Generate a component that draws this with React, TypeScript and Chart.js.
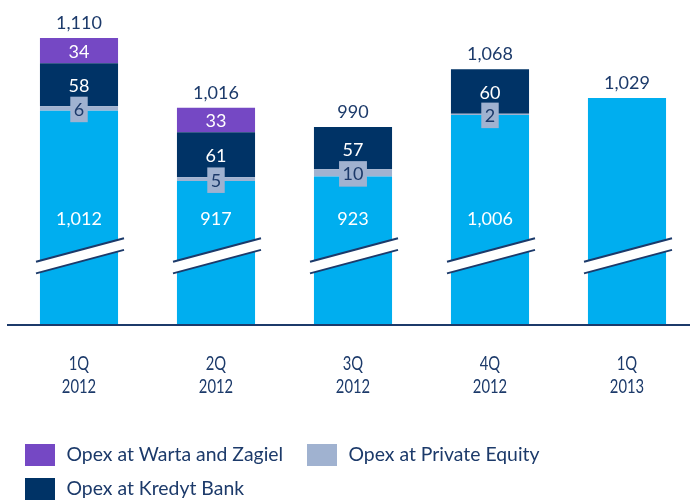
import React, { useEffect, useRef } from "react";
import { Chart, registerables } from "chart.js";

Chart.register(...registerables);

// ---- data ----
const categories: string[][] = [
  ["1Q", "2012"],
  ["2Q", "2012"],
  ["3Q", "2012"],
  ["4Q", "2012"],
  ["1Q", "2013"],
];
const opexBase = [1012, 917, 923, 1006, 1029];
const opexPrivateEquity = [6, 5, 10, 2, 0];
const opexKredytBank = [58, 61, 57, 60, 0];
const opexWartaZagiel = [34, 33, 0, 0, 0];
const totals = [1110, 1016, 990, 1068, 1029];
const legendLabels = ["Opex at Warta and Zagiel", "Opex at Private Equity", "Opex at Kredyt Bank"];

// ---- scale (broken axis) ----
const Y_MIN = 724;
const Y_MAX = 1161.4;
const BREAK_VALUE = 816;
const BASE_LABEL_VALUE = 867;

// ---- styles ----
const C_BASE = "#00AEEF";
const C_PE = "#A0B2D0";
const C_KB = "#003366";
const C_WZ = "#7548C4";
const C_TEXT = "#1C3A6A";
const FONT = "Lato, 'Open Sans', sans-serif";

const fmt = (v: number) => v.toLocaleString("en-US");

function drawText(
  ctx: CanvasRenderingContext2D,
  text: string,
  x: number,
  y: number,
  size: number,
  color: string,
  align: CanvasTextAlign = "center",
  sx = 1
) {
  ctx.save();
  ctx.font = `${size}px ${FONT}`;
  ctx.fillStyle = color;
  ctx.textAlign = align;
  ctx.textBaseline = "alphabetic";
  ctx.translate(x, y);
  ctx.scale(sx, 1);
  ctx.fillText(text, 0, 0);
  ctx.restore();
}

const decorPlugin = {
  id: "decor",
  afterDatasetsDraw(chart: any) {
    const ctx: CanvasRenderingContext2D = chart.ctx;
    const y = chart.scales.y;
    const metaBase = chart.getDatasetMeta(0);
    const metaPE = chart.getDatasetMeta(1);
    const metaKB = chart.getDatasetMeta(2);
    const metaWZ = chart.getDatasetMeta(3);

    // axis break marks
    metaBase.data.forEach((bar: any) => {
      const cx = bar.x + 1;
      const yc = y.getPixelForValue(BREAK_VALUE);
      const xl = cx - 44;
      const xr = cx + 44;
      const half = 11.75;
      const off = 5.8;
      ctx.save();
      ctx.fillStyle = "#ffffff";
      ctx.beginPath();
      ctx.moveTo(xl, yc - off + half);
      ctx.lineTo(xr, yc - off - half);
      ctx.lineTo(xr, yc + off - half);
      ctx.lineTo(xl, yc + off + half);
      ctx.closePath();
      ctx.fill();
      ctx.strokeStyle = C_TEXT;
      ctx.lineWidth = 2;
      ctx.beginPath();
      ctx.moveTo(xl, yc - off + half);
      ctx.lineTo(xr, yc - off - half);
      ctx.moveTo(xl, yc + off + half);
      ctx.lineTo(xr, yc + off - half);
      ctx.stroke();
      ctx.restore();
    });

    // x axis line
    ctx.save();
    ctx.strokeStyle = C_TEXT;
    ctx.lineWidth = 2;
    ctx.beginPath();
    ctx.moveTo(7, chart.chartArea.bottom + 1);
    ctx.lineTo(700, chart.chartArea.bottom + 1);
    ctx.stroke();
    ctx.restore();

    const segCenter = (el: any) => (el.y + el.base) / 2;

    metaBase.data.forEach((bar: any, i: number) => {
      // base label
      if (totals[i] !== opexBase[i]) {
        const by = y.getPixelForValue(BASE_LABEL_VALUE) + 6.5;
        drawText(ctx, fmt(opexBase[i]), bar.x, by, 18, "#ffffff");
      }
      // Kredyt bank
      if (opexKredytBank[i]) {
        const el = metaKB.data[i];
        drawText(ctx, fmt(opexKredytBank[i]), el.x, segCenter(el) + 7.5, 18, "#ffffff");
      }
      // Warta
      if (opexWartaZagiel[i]) {
        const el = metaWZ.data[i];
        drawText(ctx, fmt(opexWartaZagiel[i]), el.x, segCenter(el) + 7.5, 18, "#ffffff");
      }
      // Private equity (boxed)
      if (opexPrivateEquity[i]) {
        const el = metaPE.data[i];
        const c = segCenter(el) + 1;
        ctx.save();
        ctx.font = `18px ${FONT}`;
        const w = ctx.measureText(fmt(opexPrivateEquity[i])).width + 7;
        ctx.fillStyle = C_PE;
        ctx.fillRect(el.x - w / 2, c - 12.75, w, 25.5);
        ctx.restore();
        drawText(ctx, fmt(opexPrivateEquity[i]), el.x, c + 6.5, 18, C_TEXT);
      }
      // total
      const top = y.getPixelForValue(totals[i]);
      drawText(ctx, fmt(totals[i]), bar.x, top - 9, 18, C_TEXT);

      // category labels
      drawText(ctx, categories[i][0], bar.x, 370, 18.5, C_TEXT, "center", 0.8);
      drawText(ctx, categories[i][1], bar.x, 393, 18.5, C_TEXT, "center", 0.8);
    });

    // legend
    const items = [
      { label: legendLabels[0], color: C_WZ, x: 25, y: 444 },
      { label: legendLabels[1], color: C_PE, x: 307, y: 444 },
      { label: legendLabels[2], color: C_KB, x: 25, y: 478 },
    ];
    items.forEach((it) => {
      ctx.save();
      ctx.fillStyle = it.color;
      ctx.fillRect(it.x, it.y, 30, 22);
      ctx.restore();
      drawText(ctx, it.label, it.x + 41.5, it.y + 17, 19.4, C_TEXT, "left", 1);
    });
  },
};

export default function App() {
  const ref = useRef<HTMLCanvasElement | null>(null);

  useEffect(() => {
    if (!ref.current) return;
    const common = { barPercentage: 0.57, categoryPercentage: 1, borderWidth: 0 };
    const chart = new Chart(ref.current, {
      type: "bar",
      data: {
        labels: categories.map((c) => c.join(" ")),
        datasets: [
          { label: "Opex", data: opexBase, backgroundColor: C_BASE, ...common },
          { label: legendLabels[1], data: opexPrivateEquity, backgroundColor: C_PE, ...common },
          { label: legendLabels[2], data: opexKredytBank, backgroundColor: C_KB, ...common },
          { label: legendLabels[0], data: opexWartaZagiel, backgroundColor: C_WZ, ...common },
        ],
      },
      options: {
        responsive: false,
        animation: false,
        layout: { padding: { left: 10.5, right: 4.5, top: 0, bottom: 178 } },
        scales: {
          x: { stacked: true, display: false },
          y: { stacked: true, display: false, min: Y_MIN, max: Y_MAX },
        },
        plugins: { legend: { display: false }, tooltip: { enabled: false } },
      },
      plugins: [decorPlugin],
    });
    return () => chart.destroy();
  }, []);

  return (
    <div
      style={{
        position: "fixed",
        left: 0,
        top: 0,
        width: 690,
        height: 502,
        overflow: "hidden",
        background: "#ffffff",
      }}
    >
      <canvas ref={ref} width={700} height={502} style={{ width: 700, height: 502, display: "block" }} />
    </div>
  );
}
